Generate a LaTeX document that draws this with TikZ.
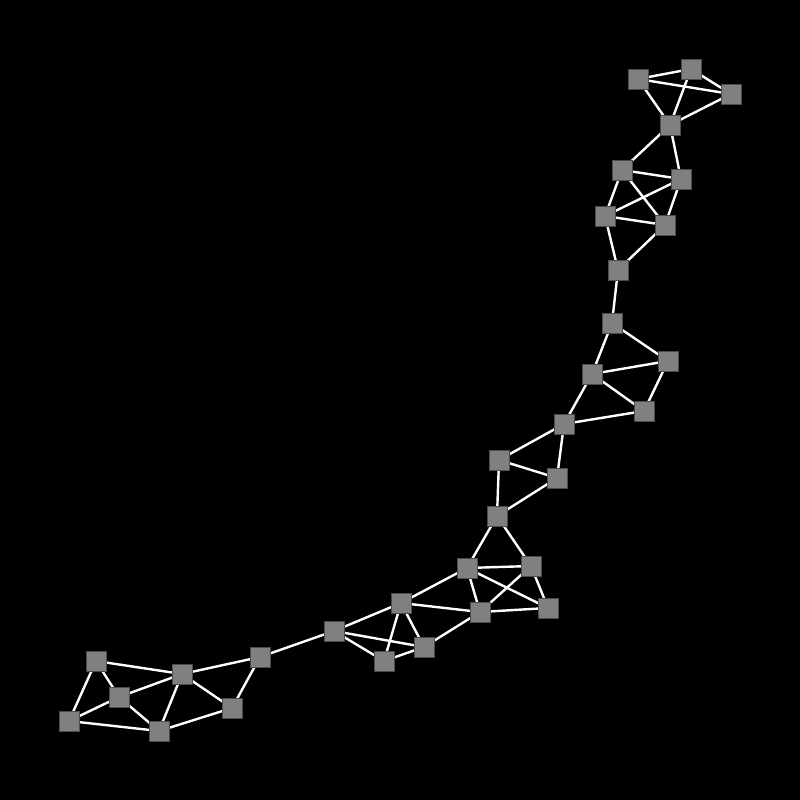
\documentclass[tikz,border=0pt]{standalone}
\begin{document}
\begin{tikzpicture}[x=1pt,y=-1pt,
  vtx/.style={draw=black!70,line width=0.6pt,fill=black!50,minimum size=20pt,inner sep=0pt,rectangle},
  edge/.style={white,line width=2.4pt}]
\fill[black] (0,0) rectangle (800,800);
\useasboundingbox (0,0) rectangle (800,800);
\foreach \n/\x/\y in {A1/638/79,A2/691/69,A3/731/94,A4/670/125,
  B1/622/170,B2/681/179,B3/605/216,B4/665/225,B5/618/270,
  C1/612/323,C2/668/361,C3/592/374,C4/644/411,C5/564/424,
  D1/499/460,D2/557/478,D3/497/516,
  E1/467/568,E2/531/566,E3/480/612,E4/548/608,
  F1/401/603,F2/334/631,F3/424/647,F4/384/661,G/260/657,
  H1/96/661,H2/119/697,H3/182/674,H4/69/721,H5/159/731,H6/232/708}
  \coordinate (\n) at (\x,\y);
\foreach \a/\b in {A1/A2,A1/A3,A2/A3,A1/A4,A2/A4,A3/A4,
  A4/B1,A4/B2,B1/B2,B1/B3,B1/B4,B3/B2,B2/B4,B3/B4,B3/B5,B4/B5,B5/C1,
  C1/C2,C1/C3,C3/C2,C3/C4,C2/C4,C3/C5,C5/C4,
  C5/D1,C5/D2,D1/D2,D1/D3,D2/D3,D3/E1,D3/E2,
  E1/E2,E1/E3,E1/E4,E2/E3,E2/E4,E3/E4,E1/F1,F1/E3,E3/F3,
  F1/F2,F1/F3,F1/F4,F2/F3,F2/F4,F4/F3,F2/G,
  H1/H3,H1/H2,H1/H4,H2/H3,H2/H4,H2/H5,H4/H5,H3/H5,H3/H6,H5/H6,H3/G,H6/G}
  \draw[edge] (\a) -- (\b);
\foreach \n in {A1,A2,A3,A4,B1,B2,B3,B4,B5,C1,C2,C3,C4,C5,D1,D2,D3,
  E1,E2,E3,E4,F1,F2,F3,F4,G,H1,H2,H3,H4,H5,H6}
  \node[vtx] (n\n) at (\n) {};
\end{tikzpicture}
\end{document}
